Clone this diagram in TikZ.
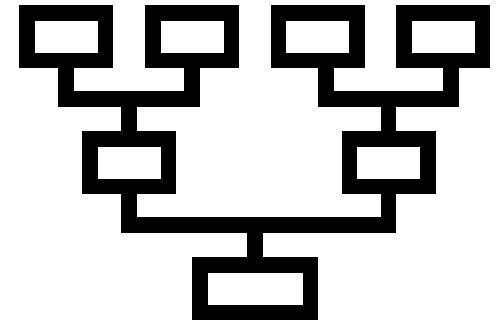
\documentclass[tikz,border=0pt]{standalone}
\begin{document}
\begin{tikzpicture}[x=1pt,y=-1pt,
  box/.style={draw=black,line width=15.5pt,rectangle,outer sep=0pt,inner sep=0pt,
    minimum width=78.5pt,minimum height=47.5pt},
  conn/.style={draw=black,line width=15.5pt}]
\useasboundingbox (0,0) rectangle (499,322);
\node[box] (b1) at (66,36.5) {};
\node[box] (b2) at (192,36.5) {};
\node[box] (b3) at (317.5,36.5) {};
\node[box] (b4) at (443,36.5) {};
\node[box] (m1) at (129,162.5) {};
\node[box] (m2) at (388.5,162.5) {};
\node[box,minimum width=110.5pt] (bot) at (255,288.5) {};
\coordinate (jl) at (129,99);
\coordinate (jr) at (388.5,99);
\coordinate (jb) at (255,225);
\draw[conn] (b1.south) |- (jl) -| (b2.south);
\draw[conn] (jl) -- (m1.north);
\draw[conn] ([xshift=8.5pt]b3.south) |- (jr) -| ([xshift=8pt]b4.south);
\draw[conn] (jr) -- (m2.north);
\draw[conn] (m1.south) |- (jb) -| (m2.south);
\draw[conn] (jb) -- (bot.north);
\end{tikzpicture}
\end{document}
